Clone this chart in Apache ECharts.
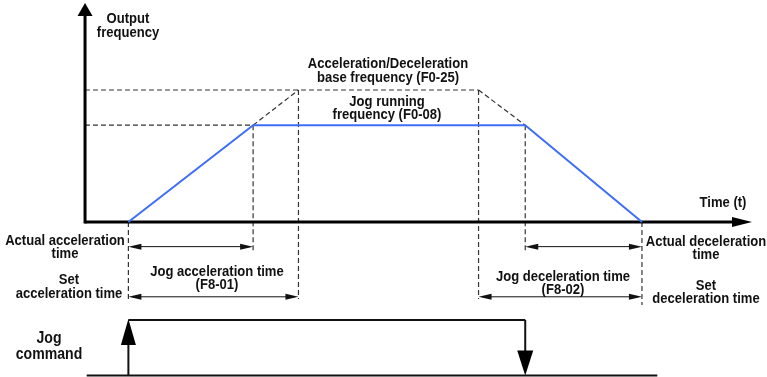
<!DOCTYPE html>
<html>
<head>
<meta charset="utf-8">
<script src="https://cdn.jsdelivr.net/npm/echarts@6/dist/echarts.min.js"></script>
<style>
html,body{margin:0;padding:0;background:#fff;}
#chart{width:767px;height:377px;}
</style>
</head>
<body>
<div id="chart"></div>
<script>
// ---- Data (time in arbitrary units, frequency in % of axis) ----
const timeRange = [-12.75, 102.25];
const freqRange = [-70, 100];

// Blue output-frequency profile
const rampTimes = [6.5, 25.2, 66, 83.5];
const rampFreqs = [0, 44, 44, 0];

// Reference levels / times
const baseFreq = 60;        // Acceleration/Deceleration base frequency (F0-25)
const jogFreq = 44;         // Jog running frequency (F0-08)
const setAccelEnd = 32;     // end of set acceleration time
const setDecelStart = 59;   // start of set deceleration time

// Axes
const timeAxisEnd = 100;
const freqAxisEnd = 99.5;

// Lower ends of the vertical guide lines
const guideLowShort = -13.6;
const guideLowLong = -35;
const guideLowEnd = -37.7;

// Dimension rows (levels below the time axis)
const actualRow = -11.2;
const setRow = -34;

// Jog command signal
const jogOn = 6.5;
const jogOff = 66;
const jogLow = -69.8;
const jogHigh = -44.5;
const jogSpan = [0.25, 85.8];

// Built from the values above
const dashedSegments = [
  [0, baseFreq, setDecelStart, baseFreq],
  [0, jogFreq, rampTimes[1], jogFreq],
  [rampTimes[1], jogFreq, setAccelEnd, baseFreq],
  [setDecelStart, baseFreq, rampTimes[2], jogFreq],
  [rampTimes[0], 0, rampTimes[0], guideLowLong],
  [rampTimes[1], jogFreq, rampTimes[1], guideLowShort],
  [setAccelEnd, baseFreq, setAccelEnd, guideLowLong],
  [setDecelStart, baseFreq, setDecelStart, guideLowLong],
  [rampTimes[2], jogFreq, rampTimes[2], guideLowShort],
  [rampTimes[3], 0, rampTimes[3], guideLowEnd]
];
const dimArrows = [
  [rampTimes[0], rampTimes[1], actualRow],
  [rampTimes[0], setAccelEnd, setRow],
  [rampTimes[2], rampTimes[3], actualRow],
  [setDecelStart, rampTimes[3], setRow]
];
const profile = rampTimes.map((t, i) => [t, rampFreqs[i]]);

const FONT = '"Liberation Sans", Arial, sans-serif';
function txt(text, x, y, size, lh, sx) {
  return {
    type: 'text', x: x, y: y, silent: true,
    scaleX: sx || 0.9, scaleY: 1,
    style: {
      text: text, fill: '#111', fontFamily: FONT, fontWeight: 'bold',
      fontSize: size || 14.5, lineHeight: lh || 13.5,
      align: 'center', verticalAlign: 'middle',
      textAlign: 'center', textVerticalAlign: 'middle'
    }
  };
}

const chart = echarts.init(document.getElementById('chart'), null, {renderer: 'canvas'});

const option = {
  animation: false,
  backgroundColor: '#fff',
  grid: {left: 0, right: 0, top: 2, bottom: 1},
  xAxis: {type: 'value', min: timeRange[0], max: timeRange[1], show: false},
  yAxis: {type: 'value', min: freqRange[0], max: freqRange[1], show: false},
  series: [
    {
      type: 'custom', name: 'guides', silent: true, clip: false,
      data: dashedSegments,
      renderItem: function (params, api) {
        const a = api.coord([api.value(0), api.value(1)]);
        const b = api.coord([api.value(2), api.value(3)]);
        return {
          type: 'line',
          shape: {x1: a[0], y1: a[1], x2: b[0], y2: b[1]},
          style: {stroke: '#333', lineWidth: 1.2, lineDash: [5, 3], fill: null}
        };
      }
    },
    {
      type: 'line', name: 'Output frequency', data: profile,
      symbol: 'none', silent: true,
      lineStyle: {color: '#3d6ef5', width: 2}
    },
    {
      type: 'custom', name: 'dims', silent: true, clip: false,
      data: dimArrows,
      renderItem: function (params, api) {
        const a = api.coord([api.value(0), api.value(2)]);
        const b = api.coord([api.value(1), api.value(2)]);
        const y = a[1], L = 13, H = 3;
        return {
          type: 'group',
          children: [
            {type: 'line', shape: {x1: a[0] + 4, y1: y, x2: b[0] - 4, y2: y},
              style: {stroke: '#111', lineWidth: 1}},
            {type: 'polygon', shape: {points: [[a[0], y], [a[0] + L, y - H], [a[0] + L, y + H]]},
              style: {fill: '#111'}},
            {type: 'polygon', shape: {points: [[b[0], y], [b[0] - L, y - H], [b[0] - L, y + H]]},
              style: {fill: '#111'}}
          ]
        };
      }
    },
    {
      type: 'custom', name: 'axes', silent: true, clip: false,
      data: [[0, 0, timeAxisEnd, freqAxisEnd]],
      renderItem: function (params, api) {
        const o = api.coord([api.value(0), api.value(1)]);
        const xe = api.coord([api.value(2), api.value(1)]);
        const ye = api.coord([api.value(0), api.value(3)]);
        return {
          type: 'group',
          children: [
            {type: 'line', shape: {x1: o[0], y1: o[1], x2: xe[0] - 12, y2: o[1]},
              style: {stroke: '#000', lineWidth: 3}},
            {type: 'line', shape: {x1: o[0], y1: o[1] + 1.5, x2: o[0], y2: ye[1] + 8},
              style: {stroke: '#000', lineWidth: 3}},
            {type: 'polygon', shape: {points: [[xe[0], o[1]], [xe[0] - 20, o[1] - 5], [xe[0] - 20, o[1] + 5]]},
              style: {fill: '#000'}},
            {type: 'polygon', shape: {points: [[o[0], ye[1]], [o[0] - 7.5, ye[1] + 13], [o[0] + 7.5, ye[1] + 13]]},
              style: {fill: '#000'}}
          ]
        };
      }
    },
    {
      type: 'custom', name: 'Jog command', silent: true, clip: false,
      data: [[jogOn, jogOff, jogLow, jogHigh, jogSpan[0], jogSpan[1]]],
      renderItem: function (params, api) {
        const on = api.coord([api.value(0), api.value(3)]);
        const off = api.coord([api.value(1), api.value(2)]);
        const s = api.coord([api.value(4), api.value(2)]);
        const e = api.coord([api.value(5), api.value(2)]);
        const yl = off[1], yh = on[1];
        const st = {stroke: '#111', lineWidth: 2};
        return {
          type: 'group',
          children: [
            {type: 'line', shape: {x1: s[0], y1: yl, x2: e[0], y2: yl}, style: st},
            {type: 'line', shape: {x1: on[0], y1: yl, x2: on[0], y2: yh + 10}, style: st},
            {type: 'line', shape: {x1: on[0], y1: yh, x2: off[0], y2: yh}, style: st},
            {type: 'line', shape: {x1: off[0], y1: yh, x2: off[0], y2: yl - 10}, style: st},
            {type: 'polygon', shape: {points: [[on[0], yh - 1], [on[0] - 7.5, yh + 25], [on[0] + 7.5, yh + 25]]},
              style: {fill: '#000'}},
            {type: 'polygon', shape: {points: [[off[0], yl], [off[0] - 8, yl - 25], [off[0] + 8, yl - 25]]},
              style: {fill: '#000'}}
          ]
        };
      }
    }
  ],
  graphic: [
    txt('Output\nfrequency', 128, 26, 14.5, 14),
    txt('Acceleration/Deceleration\nbase frequency (F0-25)', 388, 71, 14.5, 14),
    txt('Jog running\nfrequency (F0-08)', 387, 108.5, 14.5, 13),
    txt('Time (t)', 723, 203, 14.5),
    txt('Actual acceleration\ntime', 65, 247, 14.5, 13),
    txt('Set\nacceleration time', 69, 287, 14.5, 13.5),
    txt('Jog acceleration time\n(F8-01)', 217, 278.5, 14.5, 13),
    txt('Actual deceleration\ntime', 706, 248.5, 14.5, 13),
    txt('Jog deceleration time\n(F8-02)', 563, 283.5, 14.5, 13),
    txt('Set\ndeceleration time', 706, 292.5, 14.5, 12.5),
    txt('Jog\ncommand', 49, 346.5, 16, 16, 0.88)
  ]
};
chart.setOption(option);
</script>
</body>
</html>
